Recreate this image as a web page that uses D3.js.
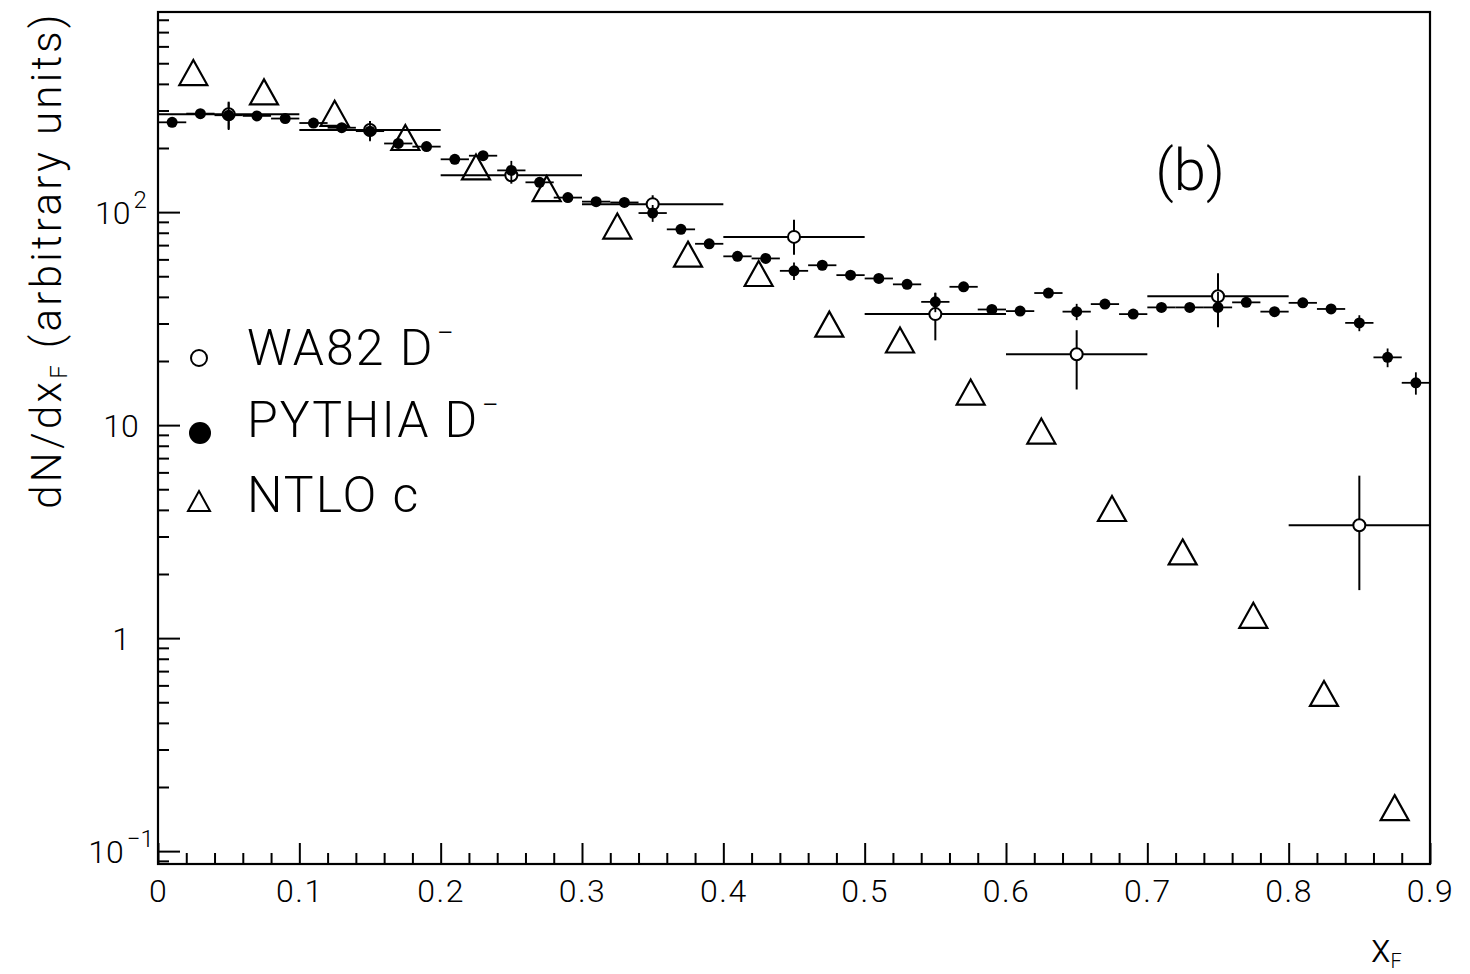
<!DOCTYPE html>
<html>
<head>
<meta charset="utf-8">
<script src="https://cdn.jsdelivr.net/npm/d3@7"></script>
<style>
    body { margin: 0; background: #fff; }
    svg { display: block; }
    text { font-family: Roboto, "Liberation Sans", sans-serif; font-weight: 300; fill: #000; }
</style>
</head>
<body>
<div id="chart"></div>
<script>
// PYTHIA D- (filled circles), bins of width 0.02
var pythiaX = [0.01, 0.03, 0.05, 0.07, 0.09, 0.11, 0.13, 0.15, 0.17, 0.19,
               0.21, 0.23, 0.25, 0.27, 0.29, 0.31, 0.33, 0.35, 0.37, 0.39,
               0.41, 0.43, 0.45, 0.47, 0.49, 0.51, 0.53, 0.55, 0.57, 0.59,
               0.61, 0.63, 0.65, 0.67, 0.69, 0.71, 0.73, 0.75, 0.77, 0.79,
               0.81, 0.83, 0.85, 0.87, 0.89];
var pythiaY = [264, 290, 285, 283, 275, 262, 249, 240, 210, 203,
               177, 184, 157, 138, 117, 112, 111, 99, 83, 71,
               62, 60.6, 53, 56.3, 50.6, 48.8, 45.8, 37.9, 44.6, 34.9,
               34.3, 41.7, 34.1, 37, 33.2, 35.7, 35.7, 35.7, 37.7, 34.1,
               37.5, 35.1, 30.2, 20.8, 15.8];
var pythiaErr = [12, 12, 42, 12, 12, 11, 11, 25, 9, 9,
                 8, 8, 17, 6, 5, 5, 5, 9, 4, 3,
                 3, 3, 5, 2.5, 2.3, 2.2, 2.1, 4, 2, 1.6,
                 1.6, 1.9, 3, 1.7, 1.5, 1.6, 1.6, 6.5, 1.7, 1.6,
                 1.7, 1.6, 2.6, 2.1, 1.9];
var pythiaHalfBin = 0.01;

// WA82 D- (open circles), bins of width 0.1
var wa82X = [0.05, 0.15, 0.25, 0.35, 0.45, 0.55, 0.65, 0.75, 0.85];
var wa82Y = [288, 243, 149, 109, 76.5, 33.2, 21.5, 40.3, 3.39];
var wa82ErrLo = [42, 25, 13, 11, 13.5, 8.2, 6.8, 11.5, 1.71];
var wa82ErrHi = [42, 25, 13, 11, 15.5, 8.5, 6.4, 11.4, 2.4];
var wa82HalfBin = 0.05;

// NTLO c (open triangles)
var ntloX = [0.025, 0.075, 0.125, 0.175, 0.225, 0.275, 0.325, 0.375, 0.425,
             0.475, 0.525, 0.575, 0.625, 0.675, 0.725, 0.775, 0.825, 0.875];
var ntloY = [452, 367, 291, 224, 163, 129, 86, 63.5, 51.5,
             29.8, 25.1, 14.3, 9.38, 4.06, 2.54, 1.28, 0.55, 0.16];

var xTicks = [0, 0.1, 0.2, 0.3, 0.4, 0.5, 0.6, 0.7, 0.8, 0.9];
var yTicks = [0.1, 1, 10, 100];
var yTickBase = ["10", "1", "10", "10"];
var yTickSup = ["\u22121", "", "", "2"];

var legendLabels = ["WA82 D", "PYTHIA D", "NTLO c"];
var legendSups = ["\u2212", "\u2212", ""];
var legendMarks = ["open", "filled", "triangle"];

var W = 1470, H = 974;
var plot = {left: 158, right: 1430, top: 12, bottom: 864};

var svg = d3.select("#chart").append("svg")
    .attr("width", W)
    .attr("height", H);

var x = d3.scaleLinear().domain([0, 0.9]).range([plot.left, plot.right]);
var y = d3.scaleLog().domain([0.087, 870]).range([plot.bottom, plot.top]);

// minor tick positions
var xMinor = d3.range(0, 45).map(function(i){ return i * 0.02; })
    .filter(function(v){ return Math.abs(v * 10 - Math.round(v * 10)) > 1e-6; });
var yMinor = [];
[0.01, 0.1, 1, 10, 100].forEach(function(dec){
    for (var k = 2; k <= 9; k++){
        var v = dec * k;
        if (v > 0.087 && v < 870) yMinor.push(v);
    }
});

// axes: ticks drawn inside the frame
var xAxis = svg.append("g")
    .attr("transform", "translate(0," + plot.bottom + ")")
    .call(d3.axisBottom(x).tickValues(xTicks).tickSizeInner(-21).tickSizeOuter(0).tickPadding(15)
        .tickFormat(function(d){ return d === 0 ? "0" : d3.format(".1f")(d); }));
svg.append("g")
    .attr("transform", "translate(0," + plot.bottom + ")")
    .call(d3.axisBottom(x).tickValues(xMinor).tickSizeInner(-11).tickSizeOuter(0).tickFormat(""));

svg.append("g")
    .attr("transform", "translate(" + plot.left + ",0)")
    .call(d3.axisLeft(y).tickValues(yTicks).tickSizeInner(-22).tickSizeOuter(0).tickFormat(""));
svg.append("g")
    .attr("transform", "translate(" + plot.left + ",0)")
    .call(d3.axisLeft(y).tickValues(yMinor).tickSizeInner(-11).tickSizeOuter(0).tickFormat(""));

svg.selectAll(".domain").remove();
svg.selectAll(".tick line")
    .attr("stroke", "#000")
    .attr("stroke-width", 2);

xAxis.selectAll(".tick text")
    .attr("font-size", 32)
    .attr("letter-spacing", 1.5)
    .style("font-family", "Roboto, 'Liberation Sans', sans-serif")
    .style("font-weight", 300);

// y tick labels with superscripts
var yLab = svg.append("g").selectAll("text")
    .data(yTicks)
    .enter().append("text")
    .attr("x", 121)
    .attr("y", function(d){ return y(d) + 12; })
    .attr("text-anchor", "middle")
    .attr("font-size", 32);
yLab.append("tspan")
    .text(function(d, i){ return yTickBase[i]; });
yLab.append("tspan")
    .attr("dx", 3)
    .attr("dy", -16)
    .attr("font-size", 24)
    .text(function(d, i){ return yTickSup[i]; });

// frame
svg.append("rect")
    .attr("x", plot.left)
    .attr("y", plot.top)
    .attr("width", plot.right - plot.left)
    .attr("height", plot.bottom - plot.top)
    .attr("fill", "none")
    .attr("stroke", "#000")
    .attr("stroke-width", 2.2);

var marks = svg.append("g");

// NTLO triangles
var triPath = "M0,-12.5L14,12.5L-14,12.5Z";
marks.selectAll(".ntlo")
    .data(ntloX)
    .enter().append("path")
    .attr("class", "ntlo")
    .attr("d", triPath)
    .attr("transform", function(d, i){ return "translate(" + x(d) + "," + y(ntloY[i]) + ")"; })
    .attr("fill", "none")
    .attr("stroke", "#000")
    .attr("stroke-width", 2.2);

// WA82 error bars and points
var wa = marks.selectAll(".wa82")
    .data(wa82X)
    .enter().append("g")
    .attr("class", "wa82");
wa.append("line")
    .attr("x1", function(d){ return x(d - wa82HalfBin); })
    .attr("x2", function(d){ return x(d + wa82HalfBin); })
    .attr("y1", function(d, i){ return y(wa82Y[i]); })
    .attr("y2", function(d, i){ return y(wa82Y[i]); });
wa.append("line")
    .attr("x1", function(d){ return x(d); })
    .attr("x2", function(d){ return x(d); })
    .attr("y1", function(d, i){ return y(wa82Y[i] - wa82ErrLo[i]); })
    .attr("y2", function(d, i){ return y(wa82Y[i] + wa82ErrHi[i]); });
wa.selectAll("line")
    .attr("stroke", "#000")
    .attr("stroke-width", 2);
wa.append("circle")
    .attr("cx", function(d){ return x(d); })
    .attr("cy", function(d, i){ return y(wa82Y[i]); })
    .attr("r", 6)
    .attr("fill", "#fff")
    .attr("stroke", "#000")
    .attr("stroke-width", 2);

// PYTHIA error bars and points (drawn on top)
var py = marks.selectAll(".pythia")
    .data(pythiaX)
    .enter().append("g")
    .attr("class", "pythia");
py.append("line")
    .attr("x1", function(d){ return x(d - pythiaHalfBin); })
    .attr("x2", function(d){ return x(d + pythiaHalfBin); })
    .attr("y1", function(d, i){ return y(pythiaY[i]); })
    .attr("y2", function(d, i){ return y(pythiaY[i]); });
py.append("line")
    .attr("x1", function(d){ return x(d); })
    .attr("x2", function(d){ return x(d); })
    .attr("y1", function(d, i){ return y(pythiaY[i] - pythiaErr[i]); })
    .attr("y2", function(d, i){ return y(pythiaY[i] + pythiaErr[i]); });
py.selectAll("line")
    .attr("stroke", "#000")
    .attr("stroke-width", 1.8);
py.append("circle")
    .attr("cx", function(d){ return x(d); })
    .attr("cy", function(d, i){ return y(pythiaY[i]); })
    .attr("r", 5.5)
    .attr("fill", "#000");

// legend
var legendY = [365, 437, 512];
var leg = svg.append("g").selectAll("g")
    .data(legendLabels)
    .enter().append("g")
    .attr("transform", function(d, i){ return "translate(0," + legendY[i] + ")"; });
leg.each(function(d, i){
    var g = d3.select(this);
    if (legendMarks[i] == "open"){
        g.append("circle").attr("cx", 199).attr("cy", -7).attr("r", 8)
            .attr("fill", "none").attr("stroke", "#000").attr("stroke-width", 2);
    } else if (legendMarks[i] == "filled"){
        g.append("circle").attr("cx", 200).attr("cy", -4).attr("r", 11).attr("fill", "#000");
    } else {
        g.append("path").attr("d", "M0,-10L11,10L-11,10Z")
            .attr("transform", "translate(199,-11)")
            .attr("fill", "none").attr("stroke", "#000").attr("stroke-width", 2);
    }
    var t = g.append("text")
        .attr("x", 247)
        .attr("y", 0)
        .attr("font-size", 50)
        .attr("letter-spacing", 2);
    t.append("tspan").text(d);
    t.append("tspan")
        .attr("dx", 2)
        .attr("dy", -22)
        .attr("font-size", 30)
        .text(legendSups[i]);
});

// axis titles
var yTitle = svg.append("text")
    .attr("transform", "translate(61,260) rotate(-90)")
    .attr("text-anchor", "middle")
    .attr("font-size", 42)
    .attr("letter-spacing", 3.3);
yTitle.append("tspan").text("dN/dx");
yTitle.append("tspan").attr("dy", 6).attr("font-size", 24).text("F");
yTitle.append("tspan").attr("dy", -6).text(" (arbitrary units)");

var xTitle = svg.append("text")
    .attr("x", 1371)
    .attr("y", 962)
    .attr("font-size", 40);
xTitle.append("tspan").text("x");
xTitle.append("tspan").attr("dy", 6).attr("font-size", 20).text("F");

svg.append("text")
    .attr("x", 1190)
    .attr("y", 190)
    .attr("text-anchor", "middle")
    .attr("font-size", 58)
    .text("(b)");
</script>
</body>
</html>
